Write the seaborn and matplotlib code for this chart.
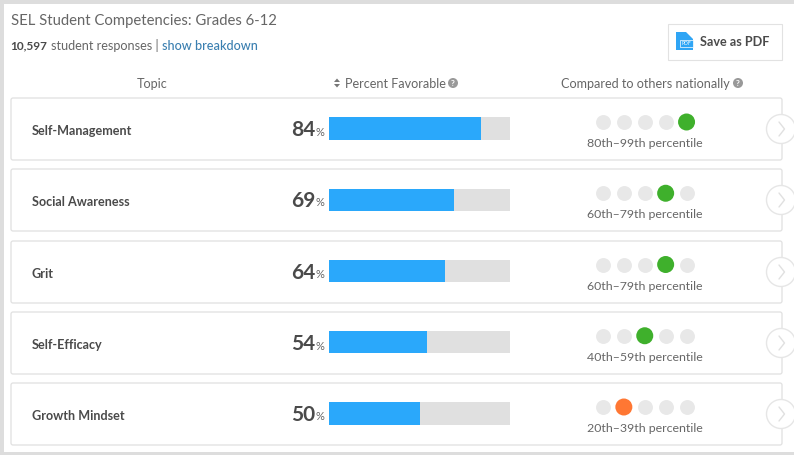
import matplotlib
matplotlib.use("Agg")
import matplotlib.pyplot as plt
from matplotlib.patches import Circle, FancyBboxPatch, Polygon, Rectangle
import pandas as pd
import seaborn as sns

topics = ["Self-Management", "Social Awareness", "Grit", "Self-Efficacy", "Growth Mindset"]
percent_favorable = [84, 69, 64, 54, 50]
percentile_tier = [4, 3, 3, 2, 1]
percentile_labels = ["80th–99th percentile", "60th–79th percentile", "60th–79th percentile",
                     "40th–59th percentile", "20th–39th percentile"]
tier_colors = ["#e8e8e8", "#ff7733", "#3fb02c", "#3fb02c", "#3fb02c"]
tiers = [0, 1, 2, 3, 4]

sns.set_theme(style="white")
plt.rcParams["font.family"] = ["Lato", "DejaVu Sans"]

W, H = 794, 455
row_top = [98, 169, 241, 312, 383]
row_h = 62
row_mid = [t + row_h / 2 for t in row_top]
step = (row_mid[-1] - row_mid[0]) / 4
TXT = "#4a4a4a"
GREY = "#666666"
LINE = "#e0e0e0"
BODY = 9.1

fig = plt.figure(figsize=(W / 100, H / 100), dpi=100, facecolor="white")

# page canvas in pixels, for the cards and text
page = fig.add_axes([0, 0, 1, 1])
page.set_xlim(0, W)
page.set_ylim(H, 0)
page.axis("off")

page.add_patch(Rectangle((0, 0), W, 4, color="#dddddd", lw=0))
page.add_patch(Rectangle((0, 0), 4, H, color="#dddddd", lw=0))
page.add_patch(Rectangle((0, 452), W, 3, color="#dddddd", lw=0))

page.text(11, 20.5, "SEL Student Competencies: Grades 6-12", fontsize=10.7, color=GREY, va="center")
page.text(10.5, 46, "10,597", fontsize=8.6, color=TXT, weight="bold", va="center")
page.text(51, 46, "student responses |", fontsize=BODY, color=GREY, va="center")
page.text(162, 46, "show breakdown", fontsize=BODY, color="#3a7fb0", va="center", weight="medium")

# save button
page.add_patch(Rectangle((668, 23.5), 114, 36, fc="white", ec="#e2e2e2", lw=0.8))
page.add_patch(Polygon([(676, 32), (686, 32), (693, 39), (693, 50), (676, 50)], color="#2fa5f5", lw=0))
page.add_patch(Rectangle((680, 40), 13, 7, fc="#2fa5f5", ec="white", lw=0.5))
page.text(686.5, 43.5, "PDF", fontsize=3.6, color="white", ha="center", va="center")
page.text(700, 42, "Save as PDF", fontsize=BODY, color=TXT, weight="bold", va="center")

# header row
page.text(152, 84, "Topic", fontsize=BODY, color=GREY, ha="center", va="center")
page.text(345, 84, "Percent Favorable", fontsize=BODY, color=GREY, va="center")
page.add_patch(Polygon([(334, 82), (340, 82), (337, 78.5)], color="#777777", lw=0))
page.add_patch(Polygon([(334, 84), (340, 84), (337, 87.5)], color="#777777", lw=0))
page.text(561, 84, "Compared to others nationally", fontsize=BODY, color=GREY, va="center")
for qx in [453, 738]:
    page.add_patch(Circle((qx, 83), 5, color="#999999", lw=0))
    page.text(qx, 83, "?", fontsize=6, color="white", ha="center", va="center", weight="bold")

for name, pct, label, top, mid in zip(topics, percent_favorable, percentile_labels, row_top, row_mid):
    page.add_patch(FancyBboxPatch((11, top), 771, row_h, boxstyle="round,pad=0,rounding_size=2",
                                  fc="white", ec=LINE, lw=0.9))
    page.text(32, mid + 2, name, fontsize=BODY, color=TXT, weight="bold", va="center")
    page.text(315.5, mid + 1, str(pct), fontsize=15, color=TXT, weight="bold", ha="right", va="center")
    page.text(316, mid + 3, "%", fontsize=8, color=GREY, va="center")
    page.text(645, mid + 14.5, label, fontsize=8.9, color=GREY, ha="center", va="center")
    page.add_patch(Circle((781, mid), 14.5, fc="white", ec="#e6e6e6", lw=1, zorder=3))
    page.plot([779, 784.5, 779], [mid - 7, mid, mid + 7], color="#e0e0e0", lw=1, zorder=4)

# bars: one axes spanning the five rows, x is percent
bar_top = row_mid[0] - step / 2 - 0.5
bars = fig.add_axes([329 / W, 1 - (bar_top + 5 * step) / H, 181 / W, 5 * step / H])
bars.patch.set_alpha(0)
df = pd.DataFrame({"topic": topics, "pct": percent_favorable, "full": [100] * 5})
sns.barplot(data=df, x="full", y="topic", color="#e0e0e0", width=0.31, saturation=1, linewidth=0, ax=bars)
sns.barplot(data=df, x="pct", y="topic", color="#2aa8fb", width=0.31, saturation=1, linewidth=0, ax=bars)
bars.set_xlim(0, 100)
bars.axis("off")

# percentile dots: same row scale, moved up to sit above the label
dot_top = bar_top - 6.5
dots = fig.add_axes([592.5 / W, 1 - (dot_top + 5 * step) / H, 104.5 / W, 5 * step / H])
dots.patch.set_alpha(0)
rows = []
for name, tier in zip(topics, percentile_tier):
    for t in tiers:
        rows.append({"topic": name, "tier": t, "on": t == tier,
                     "color": tier_colors[tier] if t == tier else tier_colors[0]})
dot_df = pd.DataFrame(rows)
off = dot_df[~dot_df["on"]]
on = dot_df[dot_df["on"]]
sns.scatterplot(data=off, x="tier", y="topic", color=tier_colors[0], s=115, linewidth=0, ax=dots, legend=False)
sns.scatterplot(data=on, x="tier", y="topic", c=on["color"].tolist(), s=150, linewidth=0, ax=dots, legend=False)
dots.set_xlim(-0.5, 4.5)
dots.set_ylim(4.5, -0.5)
dots.axis("off")

fig.savefig("out.png", dpi=100)
